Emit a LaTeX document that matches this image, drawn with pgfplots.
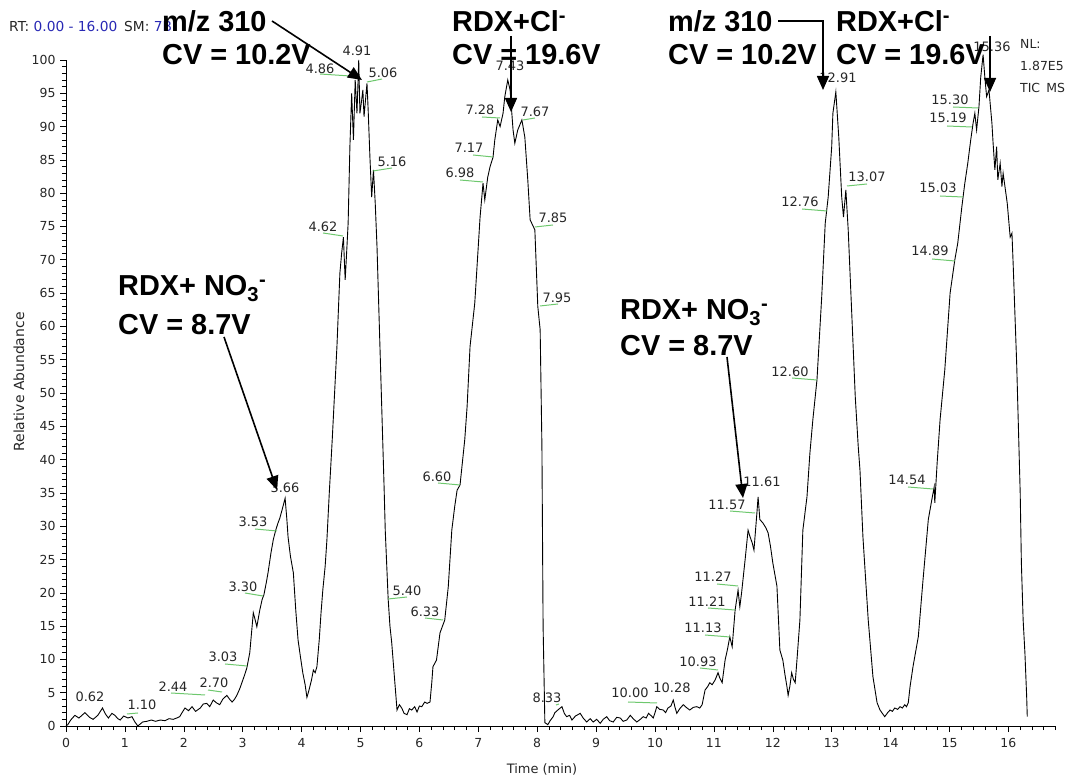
\documentclass[border=0pt]{standalone}
\usepackage{pgfplots}
\pgfplotsset{compat=1.18}
\usepackage{fontspec}
\setmainfont{DejaVu Sans}
\newfontfamily\bigf{Liberation Sans}
\usetikzlibrary{arrows.meta}
\definecolor{lblgreen}{RGB}{110,200,110}
\definecolor{rtblue}{RGB}{40,40,180}
\begin{document}
\begin{tikzpicture}
\begin{axis}[
  x=58.9bp, y=6.66bp,
  xmin=0, xmax=16.8, ymin=0, ymax=100,
  axis lines=left,
  axis line style={-, line width=0.8bp},
  xtick={0,1,...,16},
  minor xtick={0,0.2,...,16.8},
  ytick={0,5,...,100},
  minor ytick={0,1,...,100},
  tick align=outside,
  major tick length=6bp, minor tick length=4bp,
  tick style={black, line width=0.6bp},
  clip=false,
  ticklabel style={font=\fontsize{12.5}{14}\selectfont, text=black!85},
  /pgf/number format/assume math mode=true,
  xticklabel style={yshift=-3bp},
  yticklabel style={xshift=-1bp},
]
\addplot[black, line width=0.9bp] table {
t v
0.00 0
0.03 0.2
0.08 0.9
0.15 1.6
0.22 1.2
0.32 2.0
0.40 1.3
0.46 1.0
0.54 1.6
0.62 2.7
0.67 1.8
0.72 1.2
0.78 1.9
0.83 1.6
0.88 1.1
0.92 0.9
0.98 1.5
1.05 1.2
1.12 1.4
1.17 0.6
1.22 0.0
1.30 0.6
1.37 0.7
1.45 0.9
1.52 0.7
1.60 0.9
1.68 0.8
1.75 1.1
1.82 1.0
1.88 1.2
1.93 1.4
1.97 2.0
2.02 2.7
2.08 2.3
2.14 2.9
2.20 2.2
2.28 2.7
2.33 3.3
2.39 3.4
2.44 2.9
2.50 3.9
2.55 3.5
2.61 3.2
2.66 4.0
2.73 4.6
2.78 4.0
2.82 3.6
2.86 4.0
2.90 4.6
2.95 5.6
2.99 6.6
3.03 7.6
3.07 8.7
3.12 11
3.16 15
3.18 17
3.21 16
3.24 14.9
3.29 17.4
3.33 19.0
3.36 19.7
3.40 21.5
3.43 23
3.48 26
3.52 28
3.56 29.4
3.60 30.5
3.63 31.2
3.67 32.5
3.72 34.2
3.75 31
3.77 28.4
3.81 25.5
3.86 23
3.90 17.5
3.94 12.9
3.98 10.4
4.02 8
4.06 6.2
4.09 4.3
4.12 5.2
4.14 5.9
4.17 7.0
4.20 8.4
4.23 8.0
4.26 8.9
4.30 13
4.33 17
4.36 20.4
4.40 24
4.43 28
4.47 35
4.52 43
4.56 50
4.60 57
4.65 68
4.68 71
4.71 73.4
4.73 69
4.74 67
4.77 72
4.79 75.5
4.82 87
4.85 95
4.88 88
4.91 97
4.94 92
4.97 100
4.99 92
5.02 94
5.04 95.5
5.06 91.5
5.09 94.5
5.11 96.5
5.13 92.5
5.16 85.4
5.19 79.4
5.22 83.5
5.25 78.5
5.28 72
5.33 57
5.38 42
5.40 36
5.42 29.4
5.47 19
5.50 15
5.53 12.5
5.57 8
5.62 2.4
5.66 3.2
5.70 2.7
5.74 1.9
5.79 1.7
5.83 2.6
5.87 2.4
5.92 2.9
5.96 2.1
6.00 3.0
6.04 2.9
6.09 3.6
6.13 3.4
6.18 3.6
6.21 6.5
6.23 8.9
6.29 9.9
6.35 14
6.43 15.9
6.49 20.9
6.55 29.4
6.60 33
6.64 35.4
6.69 36.2
6.77 43
6.81 48
6.86 57
6.94 63.5
7.03 76.4
7.08 81.5
7.11 79
7.16 82.4
7.20 84
7.25 85.4
7.28 88
7.33 91
7.37 90
7.42 92
7.45 94.5
7.50 97
7.54 95.5
7.59 89.5
7.62 87.5
7.67 89.5
7.74 91
7.79 88.4
7.84 82
7.88 76
7.96 74.5
8.01 63
8.05 59.5
8.08 42
8.10 15
8.13 0.5
8.18 0.2
8.22 0.8
8.27 1.4
8.30 2.0
8.35 2.4
8.42 2.9
8.46 1.9
8.50 1.4
8.55 1.6
8.59 0.9
8.65 1.5
8.73 1.9
8.78 1.2
8.84 0.6
8.90 1.1
8.95 0.6
9.01 1.0
9.07 0.4
9.12 1.0
9.18 1.4
9.23 0.8
9.29 0.6
9.35 1.3
9.41 1.2
9.46 0.7
9.52 0.9
9.58 1.6
9.63 1.1
9.69 0.6
9.75 1.0
9.80 1.4
9.85 1.2
9.89 1.9
9.94 1.5
9.97 1.2
10.00 2.0
10.03 2.9
10.08 2.5
10.14 2.4
10.18 2.0
10.22 2.7
10.27 3.0
10.31 3.9
10.34 2.8
10.37 1.9
10.42 2.6
10.48 3.2
10.53 2.8
10.59 2.4
10.65 2.8
10.71 2.9
10.76 2.7
10.80 3.2
10.85 5.4
10.90 6.0
10.93 6.5
10.97 6.2
11.02 6.9
11.07 8.0
11.10 7.2
11.14 6.5
11.19 9.9
11.23 11.5
11.27 13.4
11.31 11.9
11.36 17.4
11.41 20.4
11.44 17.9
11.47 20
11.53 25
11.58 29.4
11.61 28.5
11.65 27.5
11.68 26.4
11.73 32
11.75 34.4
11.78 31
11.83 30.5
11.88 29.8
11.92 29
11.96 27
12.00 24.5
12.04 22.5
12.07 21
12.12 11.4
12.17 9.9
12.21 7.5
12.24 5.9
12.26 4.6
12.29 6.0
12.32 8.0
12.35 7.0
12.38 6.5
12.41 9.9
12.46 15.9
12.51 29.4
12.58 34.4
12.63 41
12.68 46
12.75 52
12.83 64.4
12.89 75.5
12.94 79.4
13.00 87
13.02 92
13.07 95.2
13.09 92.5
13.12 88.4
13.17 79.4
13.20 76.4
13.24 80.5
13.28 74.5
13.34 62
13.40 49.4
13.45 42
13.48 38.4
13.53 28.4
13.62 15.9
13.70 7.4
13.77 3.5
13.82 2.4
13.86 1.9
13.90 1.4
13.95 2.0
13.99 2.4
14.03 2.2
14.07 2.7
14.12 2.5
14.16 2.9
14.20 2.7
14.24 3.2
14.27 2.9
14.30 3.5
14.33 5.9
14.38 8.9
14.47 13.4
14.55 21.9
14.64 31
14.70 34
14.74 35.9
14.75 33.5
14.79 39.5
14.84 46
14.92 53.5
15.01 65
15.09 70
15.14 72.5
15.21 78
15.26 81.5
15.31 84.5
15.36 88
15.40 90.5
15.43 92
15.46 89.5
15.50 93
15.53 97.4
15.57 100.8
15.60 97.4
15.63 94.5
15.67 95.5
15.72 90.5
15.74 87.5
15.77 83.5
15.80 87
15.82 82
15.86 84.5
15.89 81
15.91 83
15.98 78.5
16.03 73.4
16.06 74
16.08 69.5
16.14 54.5
16.20 35
16.22 24.5
16.25 15.9
16.28 11
16.31 4.4
16.32 1.4
};
\coordinate (O) at (axis cs:0,0);
\end{axis}
\begin{scope}[shift={(O)}, shift={(-66bp,726bp)}, x=1bp, y=-1bp]
  % axis titles
  \node[rotate=90, font=\fontsize{14}{16}\selectfont, text=black!85] at (19,382) {Relative Abundance};
  \node[font=\fontsize{13}{15}\selectfont, text=black!85] at (542,769) {Time (min)};
  % header
  \node[anchor=base west, inner sep=0, font=\fontsize{13.8}{16}\selectfont, text=black!85] at (9,32)
    {RT: \textcolor{rtblue}{0.00 - 16.00}\enspace SM: \textcolor{rtblue}{7B}};
  \begin{scope}[font=\fontsize{12.5}{14}\selectfont, text=black!85]
    \node[anchor=base west, inner sep=0] at (1020,49) {NL:};
    \node[anchor=base west, inner sep=0] at (1020,71) {1.87E5};
    \node[anchor=base west, inner sep=0] at (1020,93) {TIC\enspace MS};
  \end{scope}
  % green lines of peak labels
  \foreach \a/\b/\c/\d in {127/714/138/713, 171/693/205/695, 208/690/222/692, 225/664/247/666,
     245/593/263/596, 255/529/277/531, 323/233/343/236, 320/74/350/76, 367/82/382/79,
     373/171/392/168, 388/599/407/597, 425/618/443/620, 438/483/460/485, 460/180/483/182,
     473/155/493/157, 482/117/500/118, 523/120/535/118, 535/227/553/225, 540/306/558/304,
     556/705/559/704, 628/702/657/703, 700/668/718/670, 705/635/730/637, 708/608/735/610,
     717/584/738/586, 730/511/755/513, 792/378/817/380, 802/209/827/211, 847/186/867/184,
     908/487/933/489, 932/259/955/261, 940/196/963/197, 947/126/972/127, 953/107/978/108}
    \draw[lblgreen, line width=1bp] (\a,\b) -- (\c,\d);
  % peak labels
  \foreach \s/\x/\y in {0.62/90/697, 1.10/142/705, 2.44/173/687, 2.70/214/683, 3.03/223/657,
     3.30/243/587, 3.53/253/522, 3.66/285/488, 4.62/323/227, 4.86/320/69, 4.91/357/51,
     5.06/383/73, 5.16/392/162, 5.40/407/591, 6.33/425/612, 6.60/437/477, 6.98/460/173,
     7.17/469/148, 7.28/480/110, 7.43/510/66, 7.67/535/112, 7.85/553/218, 7.95/557/298,
     8.33/547/698, 10.00/630/693, 10.28/672/688, 10.93/698/662, 11.13/703/628, 11.21/707/602,
     11.27/713/577, 11.57/727/505, 11.61/762/482, 12.60/790/372, 12.76/800/202, 12.91/838/78,
     13.07/867/177, 14.54/907/480, 14.89/930/251, 15.03/938/188, 15.19/948/118, 15.30/950/100,
     15.36/992/47}
    \node[inner sep=0, font=\fontsize{13}{15}\selectfont, text=black!85] at (\x,\y) {\s};
  % big annotations
  \begin{scope}[font=\bigf\bfseries\fontsize{29}{32}\selectfont]
    \node[anchor=base west, inner sep=0] at (162,32) {m/z 310};
    \node[anchor=base west, inner sep=0] at (162,65) {CV = 10.2V};
    \node[anchor=base west, inner sep=0] at (452,32) {RDX+Cl\textsuperscript{-}};
    \node[anchor=base west, inner sep=0] at (452,65) {CV = 19.6V};
    \node[anchor=base west, inner sep=0] at (668,32) {m/z 310};
    \node[anchor=base west, inner sep=0] at (668,65) {CV = 10.2V};
    \node[anchor=base west, inner sep=0] at (836,32) {RDX+Cl\textsuperscript{-}};
    \node[anchor=base west, inner sep=0] at (836,65) {CV = 19.6V};
    \node[anchor=base west, inner sep=0] at (118,296) {RDX+ NO\textsubscript{3}\textsuperscript{-}};
    \node[anchor=base west, inner sep=0] at (118,335) {CV = 8.7V};
    \node[anchor=base west, inner sep=0] at (620,320) {RDX+ NO\textsubscript{3}\textsuperscript{-}};
    \node[anchor=base west, inner sep=0] at (620,356) {CV = 8.7V};
  \end{scope}
  \begin{scope}[line width=1.6bp, -{Triangle[length=14bp,width=12bp]}]
    \draw (272,21) -- (362,80);
    \draw (511,36) -- (511,112);
    \draw (224,337) -- (277,490);
    \draw (778,21) -- (823,21) -- (823,90);
    \draw (990,36) -- (990,92);
    \draw (727,357) -- (743,498);
  \end{scope}
  \pgfresetboundingbox
  \path (0,0) rectangle (1074,778);
\end{scope}
\end{tikzpicture}
\end{document}
